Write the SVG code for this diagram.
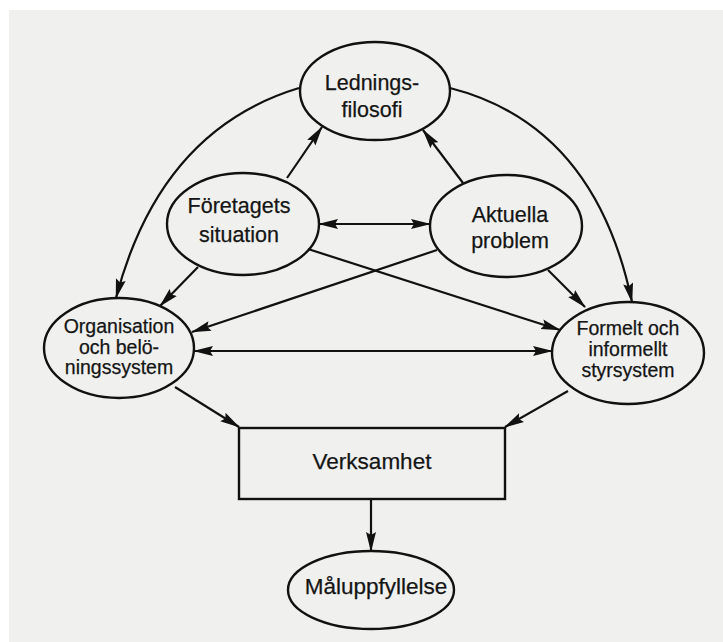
<svg xmlns="http://www.w3.org/2000/svg" width="723" height="642" viewBox="0 0 723 642">
  <defs>
    <marker id="arrow" viewBox="0 0 20 12" refX="19" refY="6" markerWidth="20" markerHeight="12" markerUnits="userSpaceOnUse" orient="auto-start-reverse">
      <path d="M0,1 L20,6 L0,11 L3,6 z" fill="#111"/>
    </marker>
    <style>
      .node { fill: none; stroke: #111; stroke-width: 2.4; }
      .edge { fill: none; stroke: #111; stroke-width: 2.2; marker-end: url(#arrow); }
      .both { marker-start: url(#arrow); }
      .label { font-family: "Liberation Sans", Arial, sans-serif; font-size: 21.5px; fill: #151515; stroke: #151515; stroke-width: 0.25; text-anchor: middle; }
      .small { font-size: 19.5px; }
      .wide { font-size: 22.5px; }
    </style>
  </defs>

  <!-- paper -->
  <rect x="0" y="0" width="723" height="642" fill="#ffffff"/>
  <rect x="9" y="10" width="714" height="632" fill="#f0f1ef"/>

  <!-- connectors -->
  <g id="connectors">
    <path class="edge" d="M299,88 Q160,130 116,298"/>
    <path class="edge" d="M450,88 Q595,125 632,302"/>
    <path class="edge" d="M287,178 L322,127"/>
    <path class="edge" d="M463,183 L423,130"/>
    <path class="edge both" d="M319,224 L430,224"/>
    <path class="edge" d="M198,267 L160,306"/>
    <path class="edge" d="M308,249 L560,330"/>
    <path class="edge" d="M437,250 L192,332"/>
    <path class="edge" d="M548,270 L585,307"/>
    <path class="edge both" d="M194,351 L552,351"/>
    <path class="edge" d="M175,387 L239,427"/>
    <path class="edge" d="M568,391 L505,427"/>
    <path class="edge" d="M371,499 L371,551"/>
  </g>

  <g id="ledningsfilosofi">
    <ellipse class="node" cx="375" cy="91" rx="75" ry="49"/>
    <text class="label" x="372" y="90">Lednings-</text>
    <text class="label" x="372" y="117">filosofi</text>
  </g>

  <g id="foretagets-situation">
    <ellipse class="node" cx="243" cy="224" rx="76" ry="51"/>
    <text class="label" x="239" y="213">Företagets</text>
    <text class="label" x="239" y="242">situation</text>
  </g>

  <g id="aktuella-problem">
    <ellipse class="node" cx="506" cy="226" rx="76" ry="51"/>
    <text class="label" x="510" y="222">Aktuella</text>
    <text class="label" x="510" y="248">problem</text>
  </g>

  <g id="organisation">
    <ellipse class="node" cx="119" cy="348" rx="75" ry="50"/>
    <text class="label small" x="119" y="333">Organisation</text>
    <text class="label small" x="119" y="354">och belö-</text>
    <text class="label small" x="119" y="374">ningssystem</text>
  </g>

  <g id="styrsystem">
    <ellipse class="node" cx="628" cy="353" rx="76" ry="51"/>
    <text class="label small" x="628" y="335">Formelt och</text>
    <text class="label small" x="628" y="356">informellt</text>
    <text class="label small" x="628" y="377">styrsystem</text>
  </g>

  <g id="verksamhet">
    <rect class="node" x="239" y="428" width="266" height="71"/>
    <text class="label wide" x="372" y="469">Verksamhet</text>
  </g>

  <g id="maluppfyllelse">
    <ellipse class="node" cx="371" cy="590" rx="83" ry="39"/>
    <text class="label wide" x="376" y="594">Måluppfyllelse</text>
  </g>
</svg>
